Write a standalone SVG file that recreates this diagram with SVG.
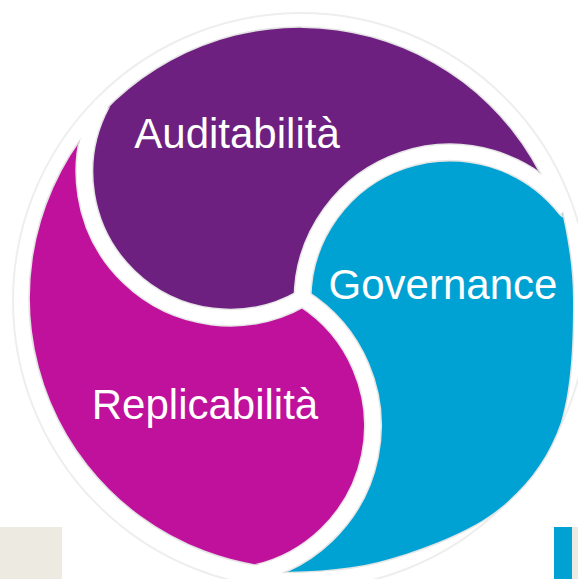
<svg xmlns="http://www.w3.org/2000/svg" width="578" height="579" viewBox="0 0 578 579">
<style>
.edge{fill:none;stroke:#E4E4E4;stroke-width:3}
.sepg{fill:none;stroke:#E6E6E6;stroke-width:18;stroke-linecap:round}
.sepw{fill:none;stroke:#FFFFFF;stroke-width:15;stroke-linecap:butt}
.lbl{font-family:"Liberation Sans",Arial,sans-serif;font-size:42px;fill:#FFFFFF;text-anchor:middle}
</style>
<defs>
<path id="pA" d="M 91.9,125.8 A 270 270 0 0 1 547,188.9 A 147.5 147.5 0 0 0 302.5,298.2 A 145.5 145.5 0 0 1 91.9,125.8 Z"/>
<path id="pR" d="M 91.9,125.8 A 270 270 0 0 0 276,566.9 A 151 151 0 0 0 302.5,298.2 A 145.5 145.5 0 0 1 91.9,125.8 Z"/>
<path id="pG" d="M 302.5,298.2 A 147.5 147.5 0 0 1 559.6,201.3 C 566,230 573,262 573,300 C 573,340 572,385 561,422 C 548,460 525,489 495,512 C 464,535 413,553 378,562 C 343,571 300,572 261,572 A 151 151 0 0 0 302.5,298.2 Z"/>
<clipPath id="inside">
<use href="#pA"/><use href="#pR"/><use href="#pG"/>
</clipPath>
</defs>
<rect x="0" y="0" width="578" height="579" fill="#FFFFFF"/>
<circle cx="301" cy="301" r="288" fill="none" stroke="#EEEEEE" stroke-width="2"/>
<rect x="0" y="527" width="62" height="52" fill="#ECEAE1"/>
<rect x="554" y="527" width="18" height="52" fill="#00A1D3"/>
<rect x="572" y="527" width="6" height="52" fill="#ECEAE1"/>
<g id="edges">
<use href="#pA" class="edge"/>
<use href="#pR" class="edge"/>
<use href="#pG" class="edge"/>
</g>
<g id="auditabilita">
<use href="#pA" fill="#6E2080"/>
</g>
<g id="replicabilita">
<use href="#pR" fill="#C0119C"/>
</g>
<g id="governance">
<use href="#pG" fill="#00A2D3"/>
</g>
<g id="connectors">
<g clip-path="url(#inside)">
<path class="sepg" d="M 302.5,298.2 A 145.5 145.5 0 0 1 101.5,103.7"/>
<path class="sepg" d="M 302.5,298.2 A 147.5 147.5 0 0 1 566.2,209.2"/>
<path class="sepg" d="M 302.5,298.2 A 151 151 0 0 1 246,575"/>
</g>
<path class="sepw" d="M 302.5,298.2 A 145.5 145.5 0 0 1 101.5,103.7"/>
<path class="sepw" d="M 302.5,298.2 A 147.5 147.5 0 0 1 566.2,209.2"/>
<path class="sepw" d="M 302.5,298.2 A 151 151 0 0 1 246,575"/>
<circle cx="302.5" cy="298.2" r="7.5" fill="#FFFFFF"/>
</g>
<g id="labels">
<text class="lbl" x="237" y="148">Auditabilità</text>
<text class="lbl" x="443" y="299">Governance</text>
<text class="lbl" x="205" y="419">Replicabilità</text>
</g>
</svg>
